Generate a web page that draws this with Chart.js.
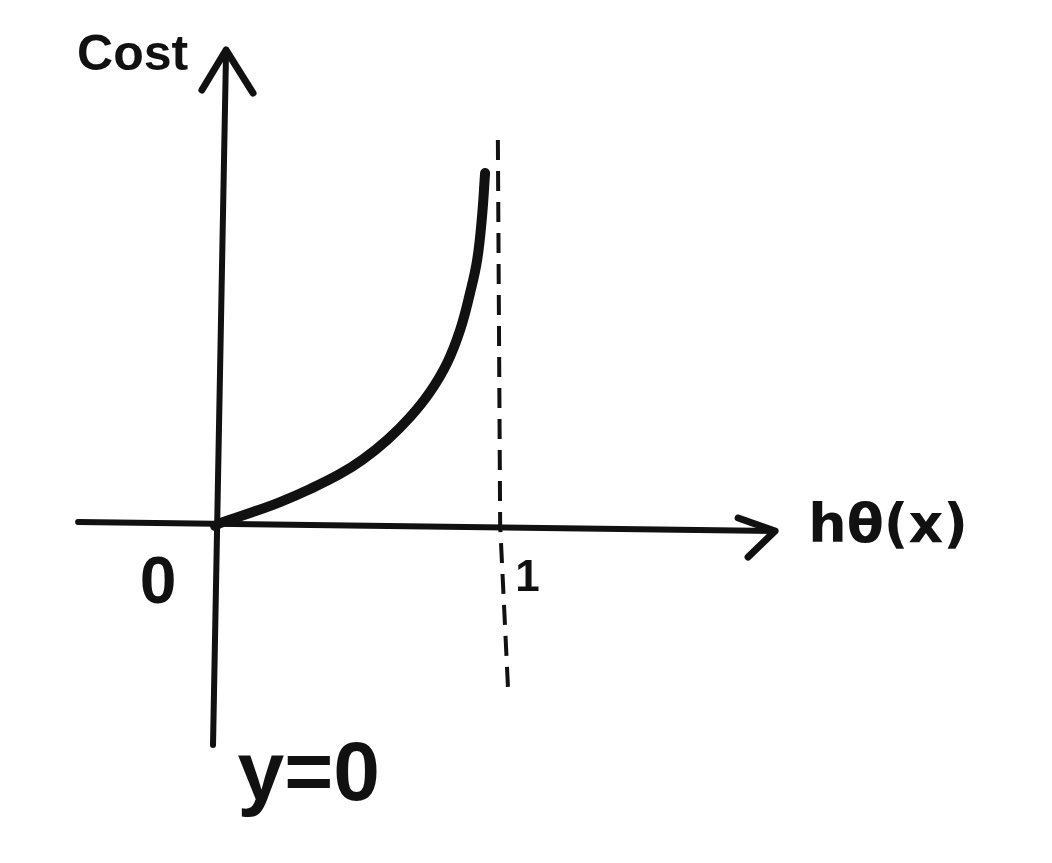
<!DOCTYPE html>
<html>
<head>
<meta charset="utf-8">
<script src="https://cdn.jsdelivr.net/npm/chart.js@4/dist/chart.umd.min.js"></script>
<style>
html,body{margin:0;padding:0;background:#fff;}
canvas{display:block;}
</style>
</head>
<body>
<canvas id="c" width="1052" height="863"></canvas>
<script>
// Cost curve for y = 0 (hand sketch), hθ(x) on x, Cost on y
const curveH    = [0, 0.018, 0.123, 0.229, 0.335, 0.440, 0.521, 0.606, 0.687, 0.757, 0.817, 0.863, 0.898, 0.923, 0.940, 0.951];
const curveCost = [0, 0.025, 0.110, 0.203, 0.314, 0.441, 0.565, 0.729, 0.924, 1.136, 1.381, 1.661, 1.975, 2.254, 2.619, 2.992];

// axes (sketched lines)
const xAxisX = [-0.482, 1.972];
const xAxisY = [0.034, -0.042];
const xArrowX = [1.842, 1.972, 1.877];
const xArrowY = [0.068, -0.042, -0.263];
const yAxisX = [-0.007, 0.039];
const yAxisY = [-1.856, 4.034];
const yArrowX = [-0.046, 0.039, 0.134];
const yArrowY = [3.695, 4.034, 3.669];
// asymptote at hθ(x) = 1
const asymX = [0.996, 1.004, 1.032];
const asymY = [3.271, 0.008, -1.390];

// text labels
const labelTexts = ["Cost", "hθ(x)", "0", "1", "y=0"];

const toPts = (xs, ys) => xs.map((x, i) => ({x: x, y: ys[i]}));
const INK = '#111';

const labelLayout = [
  {x: -0.290, y: 3.98,  font: 'bold 50px "Liberation Sans"'},
  {x: 2.370,  y: -0.02, font: 'bold 54px "DejaVu Sans"'},
  {x: -0.200, y: -0.50, font: 'bold 66px "Liberation Sans"'},
  {x: 1.100,  y: -0.45, font: 'bold 44px "Liberation Sans"'},
  {x: 0.330,  y: -2.13, font: 'bold 84px "Liberation Sans"'}
];

const textPlugin = {
  id: 'sketchText',
  afterDraw(chart) {
    const ctx = chart.ctx, sx = chart.scales.x, sy = chart.scales.y;
    ctx.save();
    ctx.fillStyle = INK;
    ctx.textAlign = 'center';
    ctx.textBaseline = 'middle';
    labelTexts.forEach((t, i) => {
      const L = labelLayout[i];
      ctx.font = L.font;
      ctx.fillText(t, sx.getPixelForValue(L.x), sy.getPixelForValue(L.y));
    });
    ctx.restore();
  }
};

const bgPlugin = {
  id: 'bg',
  beforeDraw(chart) {
    const ctx = chart.ctx;
    ctx.save();
    ctx.fillStyle = '#fff';
    ctx.fillRect(0, 0, chart.width, chart.height);
    ctx.restore();
  }
};

const lineDs = (pts, width, extra) => Object.assign({
  data: pts, showLine: true, borderColor: INK, borderWidth: width,
  pointRadius: 0, tension: 0, fill: false, borderCapStyle: 'round', borderJoinStyle: 'round'
}, extra || {});

new Chart(document.getElementById('c'), {
  type: 'scatter',
  data: {
    datasets: [
      lineDs(toPts(xAxisX, xAxisY), 6),
      lineDs(toPts(xArrowX, xArrowY), 7),
      lineDs(toPts(yAxisX, yAxisY), 6),
      lineDs(toPts(yArrowX, yArrowY), 7),
      lineDs(toPts(asymX, asymY), 4, {borderDash: [20, 11], borderCapStyle: 'butt'}),
      lineDs(toPts(curveH, curveCost), 10, {tension: 0.4})
    ]
  },
  options: {
    responsive: false,
    animation: false,
    layout: {padding: 0},
    plugins: {legend: {display: false}, tooltip: {enabled: false}},
    scales: {
      x: {type: 'linear', display: false, min: -0.757, max: 2.947},
      y: {type: 'linear', display: false, min: -2.856, max: 4.458}
    }
  },
  plugins: [bgPlugin, textPlugin]
});
</script>
</body>
</html>
